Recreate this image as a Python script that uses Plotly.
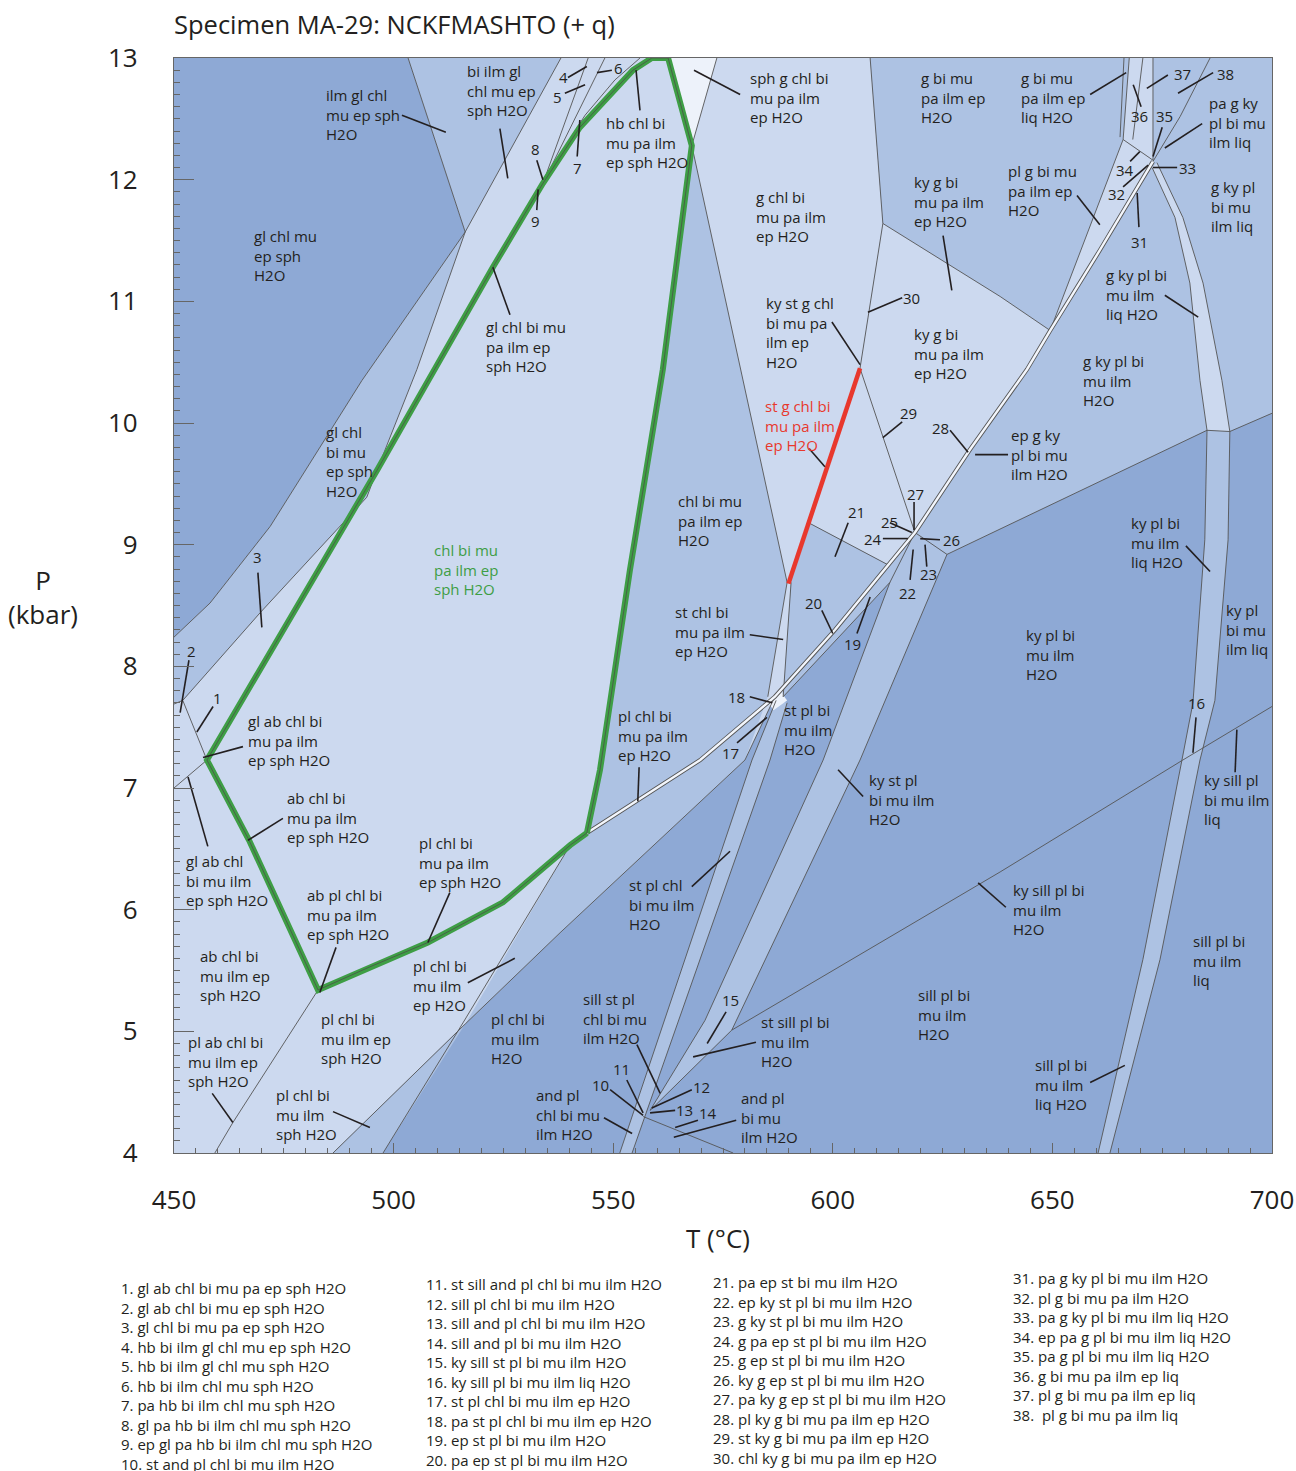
import plotly.graph_objects as go

DARK = '#8EA9D5'
MED = '#ADC2E3'
LIGHT = '#CCD9EF'
PALE = '#EDF2FA'
EDGE = '#555555'
INK = '#231F20'
GREEN = '#3E9E45'
RED = '#E8382D'
FONT = 'Open Sans'

# ---------------- phase-field polygons (T degC, P kbar) ----------------
f_light_main = [(450, 13), (608.5, 13), (611.4, 11.64), (606.2, 10.45), (589.9, 8.68), (588.7, 7.75),
                (586.8, 7.75), (580.0, 7.23), (537.9, 5.81), (516.3, 5.06), (486.2, 4.0), (450, 4.0)]
f_gl_dark = [(450, 13), (503.3, 13), (516.3, 11.57), (492.8, 10.35), (471.9, 9.15), (458.2, 8.52), (450, 8.24)]
f_ilm_med = [(503.3, 13), (538.1, 13), (516.3, 11.57)]
f_glbi_med = [(516.3, 11.57), (492.8, 10.35), (471.9, 9.15), (458.2, 8.52), (450, 8.24), (450, 7.69),
              (452.0, 7.72), (469.6, 8.44), (493.9, 9.39), (496.2, 9.61), (505.3, 10.44)]
f_sph_pale = [(562.5, 13), (573.6, 13), (567.9, 12.28)]
f_chl_med = [(567.9, 12.28), (579.6, 10.35), (589.6, 8.69), (585.2, 7.75), (580.0, 7.23), (537.9, 5.81),
             (516.3, 5.06), (540.2, 6.53), (544.0, 6.63), (547.0, 7.15), (553.8, 8.79), (561.3, 10.44)]
f_plsph_med = [(516.3, 5.06), (486.2, 4.0), (497.6, 4.0)]
f_stchl_light = [(589.6, 8.69), (590.5, 8.69), (588.7, 7.75), (585.2, 7.75)]
f_right_med = [(608.5, 13), (700, 13), (700, 10.08), (690.4, 9.93), (685.2, 9.94), (626.0, 8.92),
               (618.7, 9.10), (606.2, 10.45), (611.4, 11.64)]
f_kyg_light = [(611.4, 11.64), (638.1, 11.04), (649.5, 10.76), (644.2, 10.44), (631.2, 9.78), (618.7, 9.10),
               (612.8, 8.83), (594.5, 9.18), (606.2, 10.45)]
f_21_med = [(594.5, 9.18), (612.8, 8.83), (600.5, 8.30), (588.7, 7.75), (590.5, 8.69)]
f_19_med = [(588.7, 7.75), (600.5, 8.30), (618.7, 9.10), (613.0, 8.69)]
f_36_light = [(667.5, 13), (672.9, 13), (672.9, 12.16), (666.1, 12.33)]
f_plg_light = [(666.1, 12.33), (672.9, 12.16), (660.8, 11.42), (649.5, 10.76)]
f_rb_light = [(672.7, 12.10), (677.9, 11.69), (681.3, 11.15), (683.6, 10.35), (685.2, 9.94),
              (690.4, 9.93), (688.6, 10.35), (684.3, 11.15), (679.7, 11.69), (673.8, 12.14)]
f_rb_med = [(685.2, 9.94), (684.7, 9.04), (682.0, 7.70), (679.5, 7.23), (670.6, 5.59), (660.4, 4.0),
            (663.1, 4.0), (674.5, 5.59), (683.6, 7.23), (687.0, 7.72), (690.0, 9.04), (690.4, 9.93)]
f_band1_med = [(551.5, 4.0), (581.6, 7.23), (587.1, 7.72), (589.6, 7.70), (585.7, 7.23), (554.3, 4.0)]
f_band2_med = [(618.7, 9.10), (613.0, 8.69), (597.8, 7.23), (570.9, 5.09), (558.4, 4.35), (577.0, 5.01),
               (606.2, 7.23), (626.0, 8.92)]
f_junction_pale = [(585.0, 7.72), (588.0, 7.80), (589.6, 7.72), (586.5, 7.64)]

fields = [
    (f_light_main, LIGHT), (f_gl_dark, DARK), (f_ilm_med, MED), (f_glbi_med, MED), (f_sph_pale, PALE),
    (f_chl_med, MED), (f_plsph_med, MED), (f_stchl_light, LIGHT), (f_right_med, MED), (f_kyg_light, LIGHT),
    (f_21_med, MED), (f_19_med, MED), (f_36_light, LIGHT), (f_plg_light, LIGHT), (f_rb_light, LIGHT),
    (f_rb_med, MED), (f_band1_med, MED), (f_band2_med, MED), (f_junction_pale, PALE),
]

# ---------------- field boundaries ----------------
b_ilm = [(503.3, 13), (516.3, 11.57)]
b_gl_low = [(516.3, 11.57), (492.8, 10.35), (471.9, 9.15), (458.2, 8.52), (450, 8.24)]
b_bi_in = [(516.3, 11.57), (538.1, 13)]
b_pa_in = [(516.3, 11.57), (505.3, 10.44), (496.2, 9.61), (493.9, 9.39), (469.6, 8.44), (452.0, 7.72)]
b_ab_edge = [(452.0, 7.72), (450, 7.69)]
b_ab_1 = [(452.0, 7.72), (457.5, 7.23)]
b_ab_2 = [(457.5, 7.23), (450, 7.00)]
b_ab_pl = [(482.8, 5.34), (463.4, 4.25), (459.3, 4.0)]
b_sph_out = [(540.2, 6.53), (515.8, 5.07), (497.6, 4.0)]
b_ep_out = [(486.2, 4.0), (516.3, 5.06), (537.9, 5.81), (580.0, 7.23), (586.8, 7.75)]
b_hb_1 = [(534.0, 11.97), (544.3, 13)]
b_hb_2 = [(534.0, 11.97), (548.1, 13)]
b_hb_3 = [(536.7, 12.14), (543.6, 12.53), (550.4, 12.82), (556.1, 13)]
b_sph_g = [(567.9, 12.28), (573.6, 13)]
b_chl_r = [(567.9, 12.28), (579.6, 10.35), (589.6, 8.69), (585.2, 7.75)]
b_st_r = [(590.5, 8.69), (588.7, 7.75)]
b_g_in = [(608.5, 13), (611.4, 11.64), (606.2, 10.45)]
b_ky_in = [(611.4, 11.64), (638.1, 11.04), (649.5, 10.76)]
b_29 = [(606.2, 10.45), (618.7, 9.10)]
b_26 = [(618.7, 9.10), (626.0, 8.92)]
b_21 = [(594.5, 9.18), (612.8, 8.83)]
b_19 = [(588.7, 7.75), (613.0, 8.69)]
b_band2_l = [(618.7, 9.10), (613.0, 8.69), (597.8, 7.23), (570.9, 5.09), (558.4, 4.35)]
b_band2_r = [(626.0, 8.92), (606.2, 7.23), (577.0, 5.01), (558.4, 4.35)]
b_band1_l = [(551.5, 4.0), (581.6, 7.23), (587.1, 7.72)]
b_band1_r = [(554.3, 4.0), (585.7, 7.23), (589.6, 7.70)]
b_and_sill = [(556.8, 4.30), (577.3, 4.0)]
b_ky_sill = [(577.0, 5.01), (638.1, 6.31), (679.7, 7.23), (700, 7.67)]
b_ep_g = [(626.0, 8.92), (685.2, 9.94), (690.4, 9.93), (700, 10.08)]
b_rb_l = [(672.7, 12.10), (677.9, 11.69), (681.3, 11.15), (683.6, 10.35), (685.2, 9.94), (684.7, 9.04),
          (682.0, 7.70), (679.5, 7.23), (670.6, 5.59), (660.4, 4.0)]
b_rb_r = [(673.8, 12.14), (679.7, 11.69), (684.3, 11.15), (688.6, 10.35), (690.4, 9.93), (690.0, 9.04),
          (687.0, 7.72), (683.6, 7.23), (674.5, 5.59), (663.1, 4.0)]
b_liq_a = [(666.3, 13), (665.4, 12.35)]
b_liq_b = [(667.5, 13), (666.1, 12.33)]
b_liq_c = [(670.6, 13), (668.3, 12.33)]
b_liq_d = [(672.9, 13), (672.9, 12.16)]
b_34 = [(666.1, 12.33), (672.9, 12.16)]
b_plg = [(666.1, 12.33), (649.5, 10.76)]

boundaries = [b_ilm, b_gl_low, b_bi_in, b_pa_in, b_ab_edge, b_ab_1, b_ab_2, b_ab_pl, b_sph_out, b_ep_out,
              b_hb_1, b_hb_2, b_hb_3, b_sph_g, b_chl_r, b_st_r, b_g_in, b_ky_in, b_29, b_26, b_21, b_19,
              b_band2_l, b_band2_r, b_band1_l, b_band1_r, b_and_sill, b_ky_sill, b_ep_g, b_rb_l, b_rb_r,
              b_liq_a, b_liq_b, b_liq_c, b_liq_d, b_34, b_plg]

# narrow field drawn as a double line
b_double = [(544.0, 6.63), (569.8, 7.23), (586.8, 7.75), (600.5, 8.30), (618.7, 9.10), (631.2, 9.78),
            (644.2, 10.44), (649.5, 10.76), (660.8, 11.42), (672.9, 12.15)]
b_double_top = [(672.9, 12.15), (679.1, 12.52), (685.9, 13)]

# stability field of the assemblage chl bi mu pa ilm ep sph H2O
green_field = [(544.0, 6.63), (547.0, 7.15), (553.8, 8.79), (561.3, 10.44), (567.9, 12.28), (562.5, 13.0),
               (558.8, 13.0), (554.5, 12.90), (542.4, 12.43), (534.0, 11.97), (522.6, 11.28), (508.3, 10.38),
               (496.2, 9.61), (457.5, 7.23), (467.1, 6.57), (482.8, 5.34), (494.6, 5.53), (507.8, 5.73),
               (524.9, 6.06), (540.2, 6.53), (544.0, 6.63)]
# narrow field st g chl bi mu pa ilm ep H2O
red_field = [(606.2, 10.45), (589.9, 8.68)]

# ---------------- field labels ----------------
label_text = [
    "ilm gl chl<br>mu ep sph<br>H2O", "bi ilm gl<br>chl mu ep<br>sph H2O", "hb chl bi<br>mu pa ilm<br>ep sph H2O",
    "sph g chl bi<br>mu pa ilm<br>ep H2O", "g bi mu<br>pa ilm ep<br>H2O", "g bi mu<br>pa ilm ep<br>liq H2O",
    "pa g ky<br>pl bi mu<br>ilm liq", "g chl bi<br>mu pa ilm<br>ep H2O", "ky g bi<br>mu pa ilm<br>ep H2O",
    "pl g bi mu<br>pa ilm ep<br>H2O", "g ky pl<br>bi mu<br>ilm liq", "gl chl mu<br>ep sph<br>H2O",
    "gl chl bi mu<br>pa ilm ep<br>sph H2O", "ky st g chl<br>bi mu pa<br>ilm ep<br>H2O", "ky g bi<br>mu pa ilm<br>ep H2O",
    "g ky pl bi<br>mu ilm<br>liq H2O", "g ky pl bi<br>mu ilm<br>H2O", "st g chl bi<br>mu pa ilm<br>ep H2O",
    "ep g ky<br>pl bi mu<br>ilm H2O", "gl chl<br>bi mu<br>ep sph<br>H2O", "chl bi mu<br>pa ilm ep<br>H2O",
    "ky pl bi<br>mu ilm<br>liq H2O", "chl bi mu<br>pa ilm ep<br>sph H2O", "st chl bi<br>mu pa ilm<br>ep H2O",
    "ky pl<br>bi mu<br>ilm liq", "ky pl bi<br>mu ilm<br>H2O", "pl chl bi<br>mu pa ilm<br>ep H2O",
    "gl ab chl bi<br>mu pa ilm<br>ep sph H2O", "st pl bi<br>mu ilm<br>H2O", "ky st pl<br>bi mu ilm<br>H2O",
    "ky sill pl<br>bi mu ilm<br>liq", "ab chl bi<br>mu pa ilm<br>ep sph H2O", "pl chl bi<br>mu pa ilm<br>ep sph H2O",
    "gl ab chl<br>bi mu ilm<br>ep sph H2O", "st pl chl<br>bi mu ilm<br>H2O", "ky sill pl bi<br>mu ilm<br>H2O",
    "ab pl chl bi<br>mu pa ilm<br>ep sph H2O", "sill pl bi<br>mu ilm<br>liq", "ab chl bi<br>mu ilm ep<br>sph H2O",
    "pl chl bi<br>mu ilm<br>ep H2O", "sill pl bi<br>mu ilm<br>H2O", "sill st pl<br>chl bi mu<br>ilm H2O",
    "pl chl bi<br>mu ilm ep<br>sph H2O", "pl chl bi<br>mu ilm<br>H2O", "st sill pl bi<br>mu ilm<br>H2O",
    "pl ab chl bi<br>mu ilm ep<br>sph H2O", "sill pl bi<br>mu ilm<br>liq H2O", "and pl<br>chl bi mu<br>ilm H2O",
    "and pl<br>bi mu<br>ilm H2O", "pl chl bi<br>mu ilm<br>sph H2O",
]
label_T = [484.4, 516.5, 548.1, 580.9, 619.9, 642.6, 685.4, 582.3, 618.3, 639.7, 685.9, 468.0, 520.8, 584.6,
           618.3, 662.0, 656.7, 584.3, 640.3, 484.4, 564.5, 667.7, 509.0, 563.8, 689.3, 643.8, 550.9, 466.6,
           588.7, 608.0, 684.3, 475.5, 505.6, 452.5, 553.4, 640.8, 480.1, 681.8, 455.7, 504.2, 619.2, 542.9,
           483.2, 521.9, 583.4, 453.0, 645.8, 532.2, 578.9, 473.0]
label_P = [12.79, 12.98, 12.56, 12.93, 12.93, 12.93, 12.72, 11.95, 12.07, 12.16, 12.03, 11.63, 10.88, 11.08,
           10.82, 11.31, 10.60, 10.23, 9.99, 10.02, 9.45, 9.27, 9.05, 8.54, 8.55, 8.35, 7.68, 7.64, 7.73, 7.16,
           7.16, 7.01, 6.64, 6.49, 6.29, 6.25, 6.21, 5.83, 5.71, 5.63, 5.39, 5.36, 5.19, 5.19, 5.17, 5.00,
           4.81, 4.57, 4.54, 4.57]
label_color = {17: RED, 22: GREEN}

# small numbered fields
num_text = [str(i) for i in range(1, 39)]
num_T = [459.8, 453.9, 469.1, 538.6, 537.4, 551.3, 541.8, 532.4, 532.4, 547.0, 552.0, 570.0, 566.3, 571.6,
         576.8, 682.7, 576.6, 578.0, 604.4, 595.7, 605.3, 617.1, 621.7, 609.2, 612.8, 627.1, 618.9, 624.6,
         617.3, 618.0, 669.9, 664.5, 680.7, 666.5, 675.6, 669.9, 679.7, 689.5]
num_P = [7.74, 8.13, 8.90, 12.84, 12.68, 12.92, 12.10, 12.25, 11.66, 4.56, 4.69, 4.54, 4.35, 4.33, 5.26, 7.70,
         7.29, 7.75, 8.18, 8.52, 9.27, 8.60, 8.76, 9.05, 9.19, 9.04, 9.42, 9.96, 10.08, 11.03, 11.49, 11.88,
         12.10, 12.08, 12.52, 12.52, 12.87, 12.87]

# leader lines from labels to their fields
leaders = [
    ((501.9, 12.53), (511.9, 12.39)), ((524.2, 12.42), (526.0, 12.01)), ((555.2, 12.90), (556.1, 12.57)),
    ((568.4, 12.90), (578.9, 12.70)), ((658.6, 12.70), (666.8, 12.88)), ((675.6, 12.26), (684.1, 12.46)),
    ((625.1, 11.54), (627.1, 11.09)), ((655.6, 11.87), (660.8, 11.63)), ((675.6, 11.05), (683.2, 10.87)),
    ((526.5, 10.89), (522.6, 11.28)), ((599.8, 10.83), (606.2, 10.48)), ((594.6, 9.79), (598.2, 9.64)),
    ((632.4, 9.74), (639.9, 9.74)), ((680.4, 8.99), (685.9, 8.78)), ((581.1, 8.26), (588.7, 8.22)),
    ((682.7, 7.58), (682.0, 7.29)), ((692.0, 7.48), (691.6, 7.13)), ((555.9, 7.17), (555.6, 6.89)),
    ((601.2, 7.15), (606.9, 6.93)), ((456.6, 7.25), (465.7, 7.34)), ((453.2, 7.09), (457.7, 6.52)),
    ((466.8, 6.57), (474.8, 6.75)), ((455.2, 7.46), (458.9, 7.67)), ((451.4, 7.62), (453.4, 8.05)),
    ((469.1, 8.77), (470.0, 8.32)), ((567.9, 6.19), (576.6, 6.48)), ((507.8, 5.73), (512.8, 6.14)),
    ((483.2, 5.32), (486.9, 5.69)), ((633.1, 6.22), (639.4, 6.02)), ((516.9, 5.40), (527.6, 5.60)),
    ((555.4, 4.89), (560.7, 4.49)), ((458.7, 4.49), (463.4, 4.25)), ((486.2, 4.34), (494.6, 4.21)),
    ((547.9, 4.29), (554.3, 4.16)), ((563.8, 4.13), (578.0, 4.27)), ((568.2, 4.79), (582.5, 4.91)),
    ((571.4, 4.90), (575.7, 5.16)), ((658.6, 4.58), (666.5, 4.72)), ((549.3, 4.52), (556.8, 4.31)),
    ((553.1, 4.60), (556.8, 4.33)), ((567.9, 4.52), (558.8, 4.37)), ((564.1, 4.35), (558.4, 4.33)),
    ((569.3, 4.27), (564.1, 4.21)), ((578.2, 7.37), (585.0, 7.58)), ((581.1, 7.75), (586.2, 7.70)),
    ((608.5, 8.57), (605.5, 8.27)), ((597.5, 8.46), (600.0, 8.27)), ((603.5, 9.18), (600.5, 8.90)),
    ((617.6, 8.71), (618.3, 8.96)), ((621.4, 8.82), (621.0, 9.00)), ((611.4, 9.05), (617.1, 9.05)),
    ((613.0, 9.18), (618.0, 9.10)), ((619.9, 9.05), (624.4, 9.04)), ((618.5, 9.35), (618.5, 9.12)),
    ((626.7, 9.94), (630.8, 9.76)), ((615.8, 10.01), (611.4, 9.88)), ((615.8, 11.03), (608.0, 10.91)),
    ((669.7, 11.61), (669.3, 11.89)), ((666.1, 11.94), (671.8, 12.12)), ((678.4, 12.10), (672.9, 12.10)),
    ((667.7, 12.15), (669.9, 12.23)), ((675.0, 12.43), (672.9, 12.19)), ((668.4, 12.78), (670.2, 12.60)),
    ((671.5, 12.75), (676.3, 12.86)), ((678.6, 12.71), (686.6, 12.88)), ((539.7, 12.84), (544.0, 12.93)),
    ((539.0, 12.71), (543.6, 12.78)), ((546.3, 12.88), (549.7, 12.90)), ((541.8, 12.19), (542.4, 12.49)),
    ((532.6, 12.16), (534.0, 12.00)), ((532.6, 11.75), (532.9, 11.92)),
]

# numbered assemblages listed below the diagram
key_col1 = ["1. gl ab chl bi mu pa ep sph H2O", "2. gl ab chl bi mu ep sph H2O", "3. gl chl bi mu pa ep sph H2O",
            "4. hb bi ilm gl chl mu ep sph H2O", "5. hb bi ilm gl chl mu sph H2O", "6. hb bi ilm chl mu sph H2O",
            "7. pa hb bi ilm chl mu sph H2O", "8. gl pa hb bi ilm chl mu sph H2O",
            "9. ep gl pa hb bi ilm chl mu sph H2O", "10. st and pl chl bi mu ilm H2O"]
key_col2 = ["11. st sill and pl chl bi mu ilm H2O", "12. sill pl chl bi mu ilm H2O",
            "13. sill and pl chl bi mu ilm H2O", "14. sill and pl bi mu ilm H2O", "15. ky sill st pl bi mu ilm H2O",
            "16. ky sill pl bi mu ilm liq H2O", "17. st pl chl bi mu ilm ep H2O",
            "18. pa st pl chl bi mu ilm ep H2O", "19. ep st pl bi mu ilm H2O", "20. pa ep st pl bi mu ilm H2O"]
key_col3 = ["21. pa ep st bi mu ilm H2O", "22. ep ky st pl bi mu ilm H2O", "23. g ky st pl bi mu ilm H2O",
            "24. g pa ep st pl bi mu ilm H2O", "25. g ep st pl bi mu ilm H2O", "26. ky g ep st pl bi mu ilm H2O",
            "27. pa ky g ep st pl bi mu ilm H2O", "28. pl ky g bi mu pa ilm ep H2O",
            "29. st ky g bi mu pa ilm ep H2O", "30. chl ky g bi mu pa ilm ep H2O"]
key_col4 = ["31. pa g ky pl bi mu ilm H2O", "32. pl g bi mu pa ilm H2O", "33. pa g ky pl bi mu ilm liq H2O",
            "34. ep pa g pl bi mu ilm liq H2O", "35. pa g pl bi mu ilm liq H2O", "36. g bi mu pa ilm ep liq",
            "37. pl g bi mu pa ilm ep liq", "38.  pl g bi mu pa ilm liq"]

x_ticks = [450, 500, 550, 600, 650, 700]
y_ticks = [4, 5, 6, 7, 8, 9, 10, 11, 12, 13]


def closed(pts):
    xs = [p[0] for p in pts] + [pts[0][0]]
    ys = [p[1] for p in pts] + [pts[0][1]]
    return xs, ys


def joined(lines):
    xs, ys = [], []
    for ln in lines:
        xs += [p[0] for p in ln] + [None]
        ys += [p[1] for p in ln] + [None]
    return xs, ys


fig = go.Figure()

for pts, color in fields:
    xs, ys = closed(pts)
    fig.add_trace(go.Scatter(x=xs, y=ys, mode='lines', fill='toself', fillcolor=color,
                             line=dict(width=0), hoverinfo='skip'))

xs, ys = joined(boundaries)
fig.add_trace(go.Scatter(x=xs, y=ys, mode='lines', line=dict(color=EDGE, width=0.9), hoverinfo='skip'))

xs, ys = joined([b_double])
fig.add_trace(go.Scatter(x=xs, y=ys, mode='lines', line=dict(color=EDGE, width=4.2), hoverinfo='skip'))
fig.add_trace(go.Scatter(x=xs, y=ys, mode='lines', line=dict(color='#F3F6FC', width=2.4), hoverinfo='skip'))
xs, ys = joined([b_double_top])
fig.add_trace(go.Scatter(x=xs, y=ys, mode='lines', line=dict(color=EDGE, width=0.9), hoverinfo='skip'))

xs, ys = joined([green_field])
fig.add_trace(go.Scatter(x=xs, y=ys, mode='lines', line=dict(color=GREEN, width=6), hoverinfo='skip'))
fig.add_trace(go.Scatter(x=xs, y=ys, mode='lines', line=dict(color='#4A5A48', width=0.9), hoverinfo='skip'))

xs, ys = joined([red_field])
fig.add_trace(go.Scatter(x=xs, y=ys, mode='lines', line=dict(color=RED, width=4.5), hoverinfo='skip'))

xs, ys = joined([[a, b] for a, b in leaders])
fig.add_trace(go.Scatter(x=xs, y=ys, mode='lines', line=dict(color=INK, width=1.6), hoverinfo='skip'))

annotations = []
for i, (t, x, y) in enumerate(zip(label_text, label_T, label_P)):
    annotations.append(dict(x=x, y=y, xref='x', yref='y', text=t, showarrow=False, xanchor='left',
                            yanchor='top', align='left', borderpad=0,
                            font=dict(family=FONT, size=15, color=label_color.get(i, INK))))
for t, x, y in zip(num_text, num_T, num_P):
    annotations.append(dict(x=x, y=y, xref='x', yref='y', text=t, showarrow=False, xanchor='center',
                            yanchor='middle', borderpad=0, font=dict(family=FONT, size=15, color=INK)))

key_cols = [(key_col1, -0.0492, -0.1132), (key_col2, 0.2286, -0.1096), (key_col3, 0.4900, -0.1078),
            (key_col4, 0.7632, -0.1041)]
for col, px, py in key_cols:
    annotations.append(dict(x=px, y=py, xref='paper', yref='paper', text='<br>'.join(col), showarrow=False,
                            xanchor='left', yanchor='top', align='left', borderpad=0,
                            font=dict(family=FONT, size=15, color=INK)))

annotations.append(dict(x=-0.002, y=1.031, xref='paper', yref='paper', text='Specimen MA-29: NCKFMASHTO (+ q)',
                        showarrow=False, xanchor='left', yanchor='middle',
                        font=dict(family=FONT, size=25.5, color=INK)))
annotations.append(dict(x=0.4954, y=-0.0776, xref='paper', yref='paper', text='T (°C)', showarrow=False,
                        xanchor='center', yanchor='middle', font=dict(family=FONT, size=26, color=INK)))
annotations.append(dict(x=-0.1193, y=0.5078, xref='paper', yref='paper', text='P<br>(kbar)', showarrow=False,
                        xanchor='center', yanchor='middle', font=dict(family=FONT, size=26, color=INK)))

fig.update_layout(
    width=1296, height=1471,
    margin=dict(l=174, r=24, t=58, b=318),
    paper_bgcolor='white', plot_bgcolor=DARK,
    showlegend=False,
    annotations=annotations,
    xaxis=dict(range=[450, 700], tickvals=x_ticks, ticks='inside', ticklen=10, tickcolor='#666666',
               showgrid=False, zeroline=False, showline=True, linecolor='#666666', linewidth=1.2, mirror=True,
               minor=dict(dtick=5, ticks='inside', ticklen=5, tickcolor='#666666'),
               tickfont=dict(family=FONT, size=26, color=INK), ticklabelstandoff=24, layer='above traces',
               automargin=False, ticklabeloverflow='allow'),
    yaxis=dict(range=[4, 13], tickvals=y_ticks, ticks='inside', ticklen=20, tickcolor='#666666',
               showgrid=False, zeroline=False, showline=True, linecolor='#666666', linewidth=1.2, mirror=True,
               minor=dict(dtick=0.1, ticks='inside', ticklen=6, tickcolor='#666666'),
               tickfont=dict(family=FONT, size=26, color=INK), ticklabelstandoff=30, layer='above traces',
               automargin=False, ticklabeloverflow='allow'),
)

fig.write_html("out.html")
